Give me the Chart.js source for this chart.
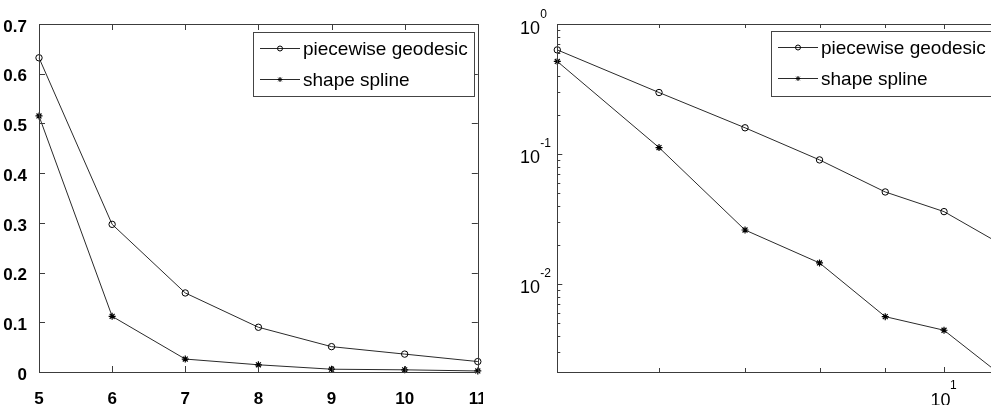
<!DOCTYPE html>
<html>
<head>
<meta charset="utf-8">
<script src="https://cdn.jsdelivr.net/npm/chart.js@4.4.1/dist/chart.umd.min.js"></script>
<style>
  html, body { margin: 0; padding: 0; background: #fff; overflow: hidden; width: 991px; height: 405px; }
  #left { position: absolute; left: 0; top: 0; }
  #right { position: absolute; left: 483px; top: 0; background: #fff; }
</style>
</head>
<body>
<canvas id="left" width="483" height="405"></canvas>
<canvas id="right" width="520" height="405"></canvas>
<script>
// data
const xValues = [5, 6, 7, 8, 9, 10, 11];
const geodesicErr = [0.632, 0.297, 0.159, 0.090, 0.051, 0.036, 0.021];
const splineErr = [0.515, 0.112, 0.026, 0.0145, 0.0056, 0.0044, 0.0021];
const seriesNames = ['piecewise geodesic', 'shape spline'];

const linYTicks = [0, 0.1, 0.2, 0.3, 0.4, 0.5, 0.6, 0.7];
const logYMajor = [1, 0.1, 0.01];
const logYExp = ['0', '-1', '-2'];
const logXMajor = [10];
const logXExp = ['1'];

const FONT = 'Liberation Sans, Arial, Helvetica, sans-serif';
const LINE = '#2a2a2a';
const AXIS = '#3c3c3c';

function toPoints(ys) {
  return xValues.map((x, i) => ({ x: x, y: ys[i] }));
}

function makeDatasets() {
  return [
    {
      label: seriesNames[0], data: toPoints(geodesicErr),
      borderColor: LINE, borderWidth: 1, pointStyle: 'circle', pointRadius: 3.2,
      pointBorderColor: '#000', pointBackgroundColor: 'rgba(0,0,0,0)', pointBorderWidth: 1,
      clip: false, tension: 0
    },
    {
      label: seriesNames[1], data: toPoints(splineErr),
      borderColor: LINE, borderWidth: 1, pointStyle: 'star', pointRadius: 3.5,
      pointBorderColor: '#000', pointBackgroundColor: '#000', pointBorderWidth: 1.2,
      clip: false, tension: 0
    }
  ];
}

function drawMarker(ctx, style, x, y, r) {
  ctx.save();
  ctx.strokeStyle = '#000';
  ctx.lineWidth = 1;
  ctx.beginPath();
  if (style === 'circle') {
    ctx.arc(x, y, r, 0, Math.PI * 2);
  } else {
    for (let k = 0; k < 4; k++) {
      const a = k * Math.PI / 4;
      ctx.moveTo(x - Math.cos(a) * r, y - Math.sin(a) * r);
      ctx.lineTo(x + Math.cos(a) * r, y + Math.sin(a) * r);
    }
  }
  ctx.stroke();
  ctx.restore();
}

// box, inward ticks and the boxed legend, MATLAB style
const matlabAxes = {
  id: 'matlabAxes',
  afterDraw(chart, args, opts) {
    const ctx = chart.ctx;
    const a = chart.chartArea;
    const xs = chart.scales.x, ys = chart.scales.y;
    ctx.save();
    ctx.strokeStyle = AXIS;
    ctx.lineWidth = 1;
    ctx.strokeRect(Math.round(a.left) + 0.5, Math.round(a.top) + 0.5,
      Math.round(a.right - a.left), Math.round(a.bottom - a.top));

    const tickX = (v, len) => {
      const p = Math.round(xs.getPixelForValue(v)) + 0.5;
      ctx.beginPath();
      ctx.moveTo(p, a.bottom); ctx.lineTo(p, a.bottom - len);
      ctx.moveTo(p, a.top); ctx.lineTo(p, a.top + len);
      ctx.stroke();
    };
    const tickY = (v, len) => {
      const p = Math.round(ys.getPixelForValue(v)) + 0.5;
      ctx.beginPath();
      ctx.moveTo(a.left, p); ctx.lineTo(a.left + len, p);
      ctx.moveTo(a.right, p); ctx.lineTo(a.right - len, p);
      ctx.stroke();
    };

    if (opts.log) {
      for (let v = 6; v <= 10; v++) tickX(v, v === 10 ? 5 : 4);
      for (let e = -3; e <= 0; e++) {
        for (let k = 1; k <= 9; k++) {
          const v = k * Math.pow(10, e);
          if (v <= ys.min || v >= ys.max) continue;
          tickY(v, k === 1 ? 5 : 3);
        }
      }
      // tick labels 10^k
      ctx.fillStyle = '#000';
      logYMajor.forEach((v, i) => {
        const p = ys.getPixelForValue(v);
        ctx.font = '18px ' + FONT;
        ctx.textAlign = 'right'; ctx.textBaseline = 'alphabetic';
        ctx.fillText('10', a.left - 17.3, p + 9.5);
        ctx.font = '12px ' + FONT;
        ctx.textAlign = 'left';
        ctx.fillText(logYExp[i], a.left - 17, p - 6.5);
      });
      logXMajor.forEach((v, i) => {
        const p = xs.getPixelForValue(v);
        ctx.font = '18px ' + FONT;
        ctx.textAlign = 'center'; ctx.textBaseline = 'alphabetic';
        ctx.fillText('10', p - 3.5, a.bottom + 34);
        ctx.font = '12px ' + FONT;
        ctx.textAlign = 'left';
        ctx.fillText(logXExp[i], p + 6, a.bottom + 17);
      });
    } else {
      for (let v = 6; v <= 10; v++) tickX(v, 6);
      linYTicks.slice(1, -1).forEach(v => tickY(v, 6));
    }

    // legend
    const L = opts.legend;
    ctx.fillStyle = '#fff';
    ctx.fillRect(L.x, L.y, L.w, L.h);
    ctx.strokeStyle = '#444';
    ctx.strokeRect(L.x + 0.5, L.y + 0.5, L.w, L.h);
    const styles = ['circle', 'star'];
    seriesNames.forEach((name, i) => {
      const ry = L.y + 16.5 + i * 31;
      ctx.strokeStyle = LINE;
      ctx.beginPath();
      ctx.moveTo(L.x + 7, ry); ctx.lineTo(L.x + 47, ry);
      ctx.stroke();
      drawMarker(ctx, styles[i], L.x + 27, ry, 2.5);
      ctx.fillStyle = '#000';
      ctx.font = '19px ' + FONT;
      ctx.textAlign = 'left'; ctx.textBaseline = 'middle';
      ctx.fillText(name, L.x + 50, ry + 1);
    });
    ctx.restore();
  }
};

function fixWidth(w) {
  return s => { s.width = w; s.paddingTop = 0; s.paddingBottom = 0; };
}
function fixHeight(h) {
  return s => { s.height = h; s.paddingLeft = 0; s.paddingRight = 0; };
}

// left: linear axes
new Chart(document.getElementById('left').getContext('2d'), {
  type: 'line',
  data: { datasets: makeDatasets() },
  options: {
    responsive: false, animation: false, devicePixelRatio: 1,
    layout: { padding: { top: 24, right: 3, left: 0, bottom: 0 } },
    plugins: {
      legend: { display: false }, tooltip: { enabled: false },
      matlabAxes: { log: false, legend: { x: 253, y: 32, w: 221, h: 64 } }
    },
    scales: {
      x: {
        type: 'linear', min: 5, max: 11,
        ticks: { stepSize: 1, color: '#000', font: { family: FONT, size: 17, weight: 'bold' }, padding: 9 },
        grid: { display: false }, border: { display: false },
        afterFit: fixHeight(33)
      },
      y: {
        type: 'linear', min: 0, max: 0.7,
        afterBuildTicks: s => { s.ticks = linYTicks.map(v => ({ value: v })); },
        ticks: { color: '#000', font: { family: FONT, size: 17, weight: 'bold' }, padding: 4, labelOffset: 3 },
        grid: { display: false }, border: { display: false },
        afterFit: fixWidth(39)
      }
    }
  },
  plugins: [matlabAxes]
});

// right: log-log axes
new Chart(document.getElementById('right').getContext('2d'), {
  type: 'line',
  data: { datasets: makeDatasets() },
  options: {
    responsive: false, animation: false, devicePixelRatio: 1,
    layout: { padding: { top: 24, right: 5.8, left: 0, bottom: 0 } },
    plugins: {
      legend: { display: false }, tooltip: { enabled: false },
      matlabAxes: { log: true, legend: { x: 288, y: 31, w: 221, h: 65 } }
    },
    scales: {
      x: {
        type: 'logarithmic', min: 5, max: 11,
        ticks: { display: false }, grid: { display: false }, border: { display: false },
        afterFit: fixHeight(33)
      },
      y: {
        type: 'logarithmic', min: 0.0021, max: 1,
        ticks: { display: false }, grid: { display: false }, border: { display: false },
        afterFit: fixWidth(74.3)
      }
    }
  },
  plugins: [matlabAxes]
});
</script>
</body>
</html>
